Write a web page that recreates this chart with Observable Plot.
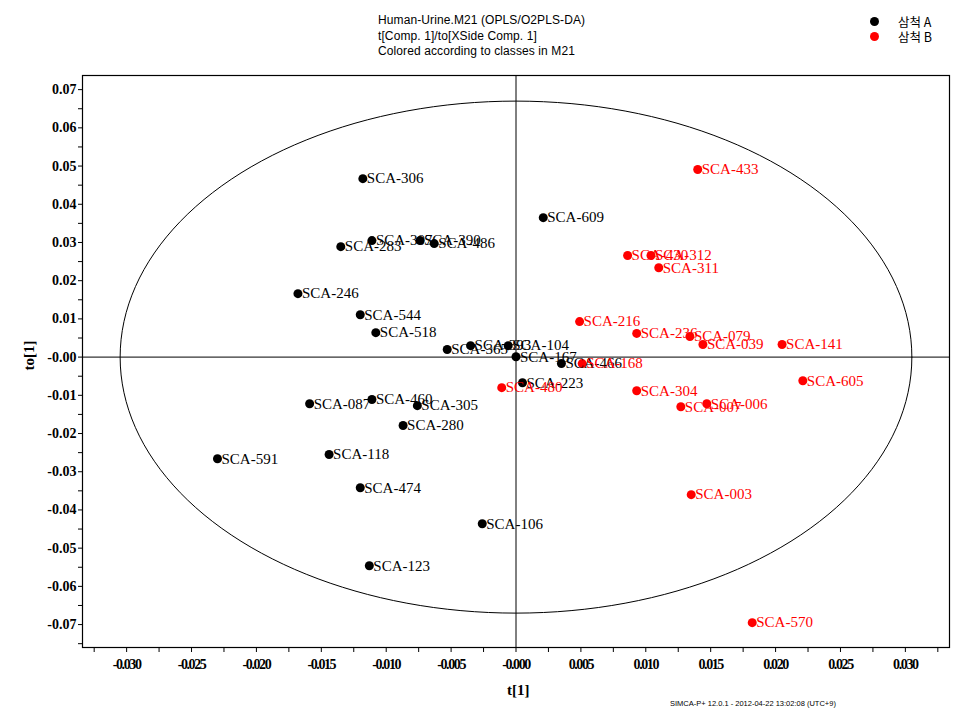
<!DOCTYPE html>
<html>
<head>
<meta charset="utf-8">
<script src="https://cdn.jsdelivr.net/npm/d3@7"></script>
<script src="https://cdn.jsdelivr.net/npm/@observablehq/plot@0.6"></script>
<style>
  html, body { margin: 0; padding: 0; background: #fff; }
  #wrap { position: relative; width: 962px; height: 721px; overflow: hidden; }
  .ov { position: absolute; white-space: nowrap; }
  .title { left: 378px; top: 13px; font-family: "Liberation Sans", Arial, sans-serif; font-size: 12px; line-height: 15.5px; color: #000; letter-spacing: 0.1px; }
  .leg { font-family: "Noto Sans CJK KR", sans-serif; font-size: 12.5px; color: #000; }
  .dotA { position: absolute; width: 9px; height: 9px; border-radius: 50%; }
  .cap { left: 670px; top: 699px; font-family: "Liberation Sans", Arial, sans-serif; font-size: 7.5px; color: #000; }
  .axl { font-family: "Liberation Serif", serif; font-weight: bold; font-size: 15px; color: #000; }
</style>
</head>
<body>
<div id="wrap"></div>
<script>
// ---- data ----
const classA_names = ["SCA-306","SCA-609","SCA-283","SCA-307","SCA-390","SCA-486","SCA-246","SCA-544","SCA-518","SCA-365","SCA-393","SCA-104","SCA-167","SCA-466","SCA-223","SCA-460","SCA-087","SCA-305","SCA-280","SCA-591","SCA-118","SCA-474","SCA-106","SCA-123"];
const classA_t  = [-0.0118, 0.0021, -0.0135, -0.0111, -0.0074, -0.0063, -0.0168, -0.0120, -0.0108, -0.0053, -0.0035, -0.0006, 0.0000, 0.0035, 0.0005, -0.0111, -0.0159, -0.0076, -0.0087, -0.0230, -0.0144, -0.0120, -0.0026, -0.0113];
const classA_to = [0.0467, 0.0365, 0.0289, 0.0305, 0.0305, 0.0297, 0.0166, 0.0111, 0.0064, 0.0020, 0.0030, 0.0030, 0.0001, -0.0017, -0.0067, -0.0111, -0.0122, -0.0127, -0.0179, -0.0266, -0.0255, -0.0342, -0.0436, -0.0546];

const classB_names = ["SCA-433","SCA-430","SCA-312","SCA-311","SCA-216","SCA-236","SCA-079","SCA-039","SCA-141","SCA-168","SCA-480","SCA-605","SCA-304","SCA-007","SCA-006","SCA-003","SCA-570"];
const classB_t  = [0.0140, 0.0086, 0.0104, 0.0110, 0.0049, 0.0093, 0.0134, 0.0144, 0.0205, 0.0051, -0.0011, 0.0221, 0.0093, 0.0127, 0.0147, 0.0135, 0.0182];
const classB_to = [0.0491, 0.0266, 0.0266, 0.0234, 0.0093, 0.0062, 0.0054, 0.0033, 0.0033, -0.0017, -0.0080, -0.0062, -0.0088, -0.0130, -0.0122, -0.0360, -0.0695];

const classLabels = ["삼척 A", "삼척 B"];
const classColors = ["#000000", "#ff0000"];

const xTicks = [-0.030,-0.025,-0.020,-0.015,-0.010,-0.005,0,0.005,0.010,0.015,0.020,0.025,0.030];
const xTickLabels = ["-0.030","-0.025","-0.020","-0.015","-0.010","-0.005","-0.000","0.005","0.010","0.015","0.020","0.025","0.030"];
const yTicks = [0.07,0.06,0.05,0.04,0.03,0.02,0.01,0,-0.01,-0.02,-0.03,-0.04,-0.05,-0.06,-0.07];
const yTickLabels = ["0.07","0.06","0.05","0.04","0.03","0.02","0.01","-0.00","-0.01","-0.02","-0.03","-0.04","-0.05","-0.06","-0.07"];
const xMinor = [-0.0325,-0.0275,-0.0225,-0.0175,-0.0125,-0.0075,-0.0025,0.0025,0.0075,0.0125,0.0175,0.0225,0.0275,0.0325];
const yMinor = [0.065,0.055,0.045,0.035,0.025,0.015,0.005,-0.005,-0.015,-0.025,-0.035,-0.045,-0.055,-0.065,-0.075];

// Hotelling T2 ellipse radii (t, to)
const ellipseRadii = [0.0305, 0.0670];

const titleLines = ["Human-Urine.M21 (OPLS/O2PLS-DA)", "t[Comp. 1]/to[XSide Comp. 1]", "Colored according to classes in M21"];
const caption = "SIMCA-P+ 12.0.1 - 2012-04-22 13:02:08 (UTC+9)";

// ---- build ----
const pts = [
  ...classA_names.map((n,i) => ({name:n, t:classA_t[i], to:classA_to[i], cls:0})),
  ...classB_names.map((n,i) => ({name:n, t:classB_t[i], to:classB_to[i], cls:1}))
];
const ell = d3.range(0, 361, 2).map(a => ({t: ellipseRadii[0]*Math.cos(a*Math.PI/180), to: ellipseRadii[1]*Math.sin(a*Math.PI/180)}));
const xfmt = new Map(xTicks.map((v,i)=>[v,xTickLabels[i]]));
const yfmt = new Map(yTicks.map((v,i)=>[v,yTickLabels[i]]));
const serif = "Liberation Serif, Times New Roman, serif";

const chart = Plot.plot({
  width: 962, height: 721,
  marginLeft: 82, marginRight: 13, marginTop: 75, marginBottom: 74,
  x: {domain: [-0.0334, 0.0334]},
  y: {domain: [-0.0760, 0.0737]},
  style: {background: "white", color: "black"},
  marks: [
    Plot.frame({stroke: "black", strokeWidth: 1.2}),
    Plot.axisX(xTicks, {tickSize: 5, tickPadding: 7, tickFormat: d => xfmt.get(d), fontFamily: serif, fontWeight: "bold", fontSize: 14, label: null}),
    Plot.axisX(xMinor, {tickSize: 5, tickFormat: () => "", label: null}),
    Plot.axisY(yTicks, {tickSize: 4, tickPadding: 2, tickFormat: d => yfmt.get(d), fontFamily: serif, fontWeight: "bold", fontSize: 14, label: null}),
    Plot.axisY(yMinor.filter(v => v > -0.0760), {tickSize: 4, tickFormat: () => "", label: null}),
    Plot.ruleX([0], {stroke: "black", strokeWidth: 1}),
    Plot.ruleY([0], {stroke: "black", strokeWidth: 1}),
    Plot.line(ell, {x: "t", y: "to", stroke: "black", strokeWidth: 1, curve: "linear"}),
    Plot.dot(pts, {x: "t", y: "to", r: 4.5, fill: d => classColors[d.cls], stroke: "none"}),
    Plot.text(pts, {x: "t", y: "to", text: "name", dx: 4, dy: 0, textAnchor: "start", fill: d => classColors[d.cls], fontFamily: serif, fontSize: 15})
  ]
});
const wrap = document.getElementById("wrap");
wrap.appendChild(chart);
d3.select(chart).selectAll('g[aria-label="x-axis tick label"] text').style("letter-spacing", "-1.4px");

// title
const t = document.createElement("div");
t.className = "ov title";
t.innerHTML = titleLines.join("<br>");
wrap.appendChild(t);

// legend
classLabels.forEach((lab, i) => {
  const d = document.createElement("div");
  d.className = "dotA";
  d.style.left = "870px"; d.style.top = (17 + i*15) + "px"; d.style.background = classColors[i];
  wrap.appendChild(d);
  const s = document.createElement("div");
  s.className = "ov leg";
  s.style.left = "898px"; s.style.top = (12 + i*15) + "px";
  s.textContent = lab;
  wrap.appendChild(s);
});

// caption
const c = document.createElement("div");
c.className = "ov cap";
c.textContent = caption;
wrap.appendChild(c);

// axis labels
const xl = document.createElement("div");
xl.className = "ov axl";
xl.style.left = "507px"; xl.style.top = "682px";
xl.textContent = "t[1]";
wrap.appendChild(xl);
const yl = document.createElement("div");
yl.className = "ov axl";
yl.style.left = "14px"; yl.style.top = "347px";
yl.style.transform = "rotate(-90deg)";
yl.textContent = "to[1]";
wrap.appendChild(yl);
</script>
</body>
</html>
